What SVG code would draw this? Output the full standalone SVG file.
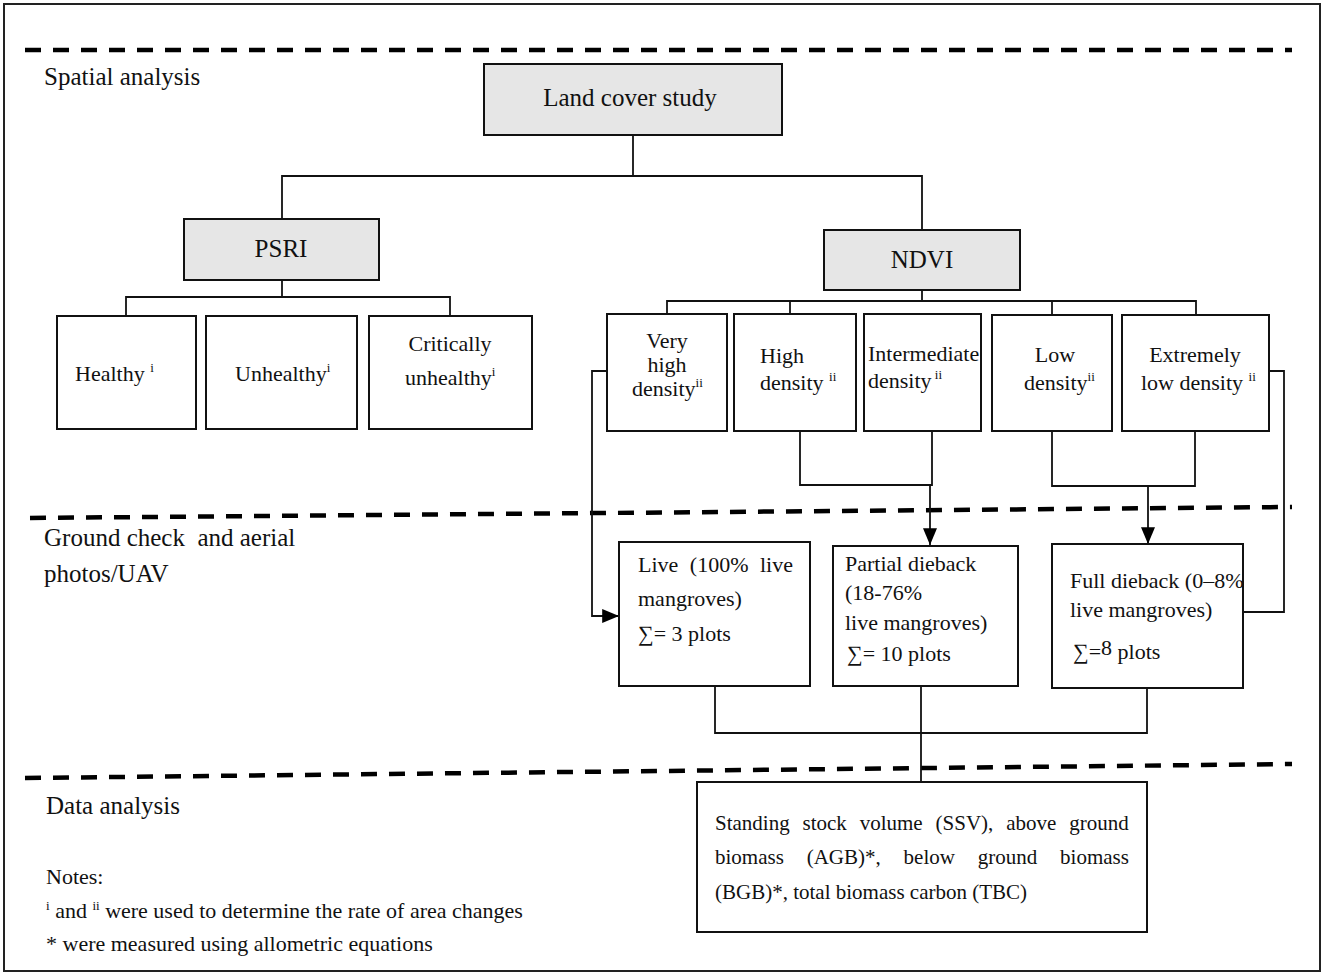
<svg xmlns="http://www.w3.org/2000/svg" width="1325" height="976" viewBox="0 0 1325 976">
<style>
text{font-family:"Liberation Serif","Times New Roman",serif;fill:#111;}
.big{font-size:25px;}
.nd{font-size:22px;}
.sm{font-size:21px;}
.sup{font-size:13px;}
.box{fill:#fff;stroke:#111;stroke-width:2;}
.gbox{fill:#e6e6e6;stroke:#111;stroke-width:2;}
.con{fill:none;stroke:#111;stroke-width:1.8;}
.dash{fill:none;stroke:#000;stroke-width:4.5;stroke-dasharray:16 12;}
</style>
<defs>
<marker id="arr" viewBox="0 0 12 10" refX="12" refY="5" markerWidth="17" markerHeight="14" markerUnits="userSpaceOnUse" orient="auto">
<path d="M0,0 L12,5 L0,10 Z" fill="#000"/>
</marker>
</defs>
<rect x="4" y="4" width="1316" height="967" fill="#fff" stroke="#222" stroke-width="2"/>

<g id="sections">
<line class="dash" x1="25" y1="50" x2="1292" y2="50"/>
<line class="dash" x1="30" y1="518" x2="1292" y2="507"/>
<line class="dash" x1="25" y1="778" x2="1292" y2="764"/>
<text class="big" x="44" y="85">Spatial analysis</text>
<text class="big" x="44" y="546" xml:space="preserve">Ground check  and aerial</text>
<text class="big" x="44" y="582">photos/UAV</text>
<text class="big" x="46" y="814">Data analysis</text>
<text class="nd" x="46" y="884">Notes:</text>
<text class="nd" x="46" y="918"><tspan class="sup" dy="-8">i</tspan><tspan dy="8"> and </tspan><tspan class="sup" dy="-8">ii</tspan><tspan dy="8"> were used to determine the rate of area changes</tspan></text>
<text class="nd" x="46" y="951">* were measured using allometric equations</text>
</g>

<g id="connectors">
<polyline class="con" points="633,135 633,176"/>
<polyline class="con" points="282,219 282,176 922,176 922,230"/>
<polyline class="con" points="282,280 282,297"/>
<polyline class="con" points="126,316 126,297 450,297 450,316"/>
<polyline class="con" points="922,290 922,301"/>
<polyline class="con" points="667,314 667,301 1196,301 1196,315"/>
<line class="con" x1="790" y1="301" x2="790" y2="314"/>
<line class="con" x1="1052" y1="301" x2="1052" y2="315"/>
<polyline class="con" points="607,371 592,371 592,616 619,616" marker-end="url(#arr)"/>
<polyline class="con" points="800,431 800,485 932,485 932,431"/>
<line class="con" x1="930" y1="485" x2="930" y2="545" marker-end="url(#arr)"/>
<polyline class="con" points="1052,431 1052,486 1195,486 1195,431"/>
<line class="con" x1="1148" y1="486" x2="1148" y2="544" marker-end="url(#arr)"/>
<polyline class="con" points="1269,371 1284,371 1284,612 1243,612"/>
<polyline class="con" points="715,686 715,733 1147,733 1147,688"/>
<line class="con" x1="921" y1="686" x2="921" y2="782"/>
</g>

<g id="land-cover">
<rect class="gbox" x="484" y="64" width="298" height="71"/>
<text class="big" x="630" y="106" text-anchor="middle">Land cover study</text>
</g>
<g id="psri">
<rect class="gbox" x="184" y="219" width="195" height="61"/>
<text class="big" x="281" y="257" text-anchor="middle">PSRI</text>
</g>
<g id="ndvi">
<rect class="gbox" x="824" y="230" width="196" height="60"/>
<text class="big" x="922" y="268" text-anchor="middle">NDVI</text>
</g>

<g id="healthy">
<rect class="box" x="57" y="316" width="139" height="113"/>
<text class="nd" x="75" y="381">Healthy <tspan class="sup" dy="-9">i</tspan></text>
</g>
<g id="unhealthy">
<rect class="box" x="206" y="316" width="151" height="113"/>
<text class="nd" x="235" y="381">Unhealthy<tspan class="sup" dy="-9">i</tspan></text>
</g>
<g id="critically-unhealthy">
<rect class="box" x="369" y="316" width="163" height="113"/>
<text class="nd" x="450" y="351" text-anchor="middle">Critically</text>
<text class="nd" x="405" y="385">unhealthy<tspan class="sup" dy="-9">i</tspan></text>
</g>

<g id="very-high">
<rect class="box" x="607" y="314" width="120" height="117"/>
<text class="nd" x="667" y="348" text-anchor="middle">Very</text>
<text class="nd" x="667" y="372" text-anchor="middle">high</text>
<text class="nd" x="632" y="396">density<tspan class="sup" dy="-9">ii</tspan></text>
</g>
<g id="high">
<rect class="box" x="734" y="314" width="122" height="117"/>
<text class="nd" x="760" y="363">High</text>
<text class="nd" x="760" y="390">density <tspan class="sup" dy="-9">ii</tspan></text>
</g>
<g id="intermediate">
<rect class="box" x="864" y="314" width="117" height="117"/>
<text class="nd" x="868" y="361">Intermediate</text>
<text class="nd" x="868" y="388">density<tspan class="sup" dy="-9"> ii</tspan></text>
</g>
<g id="low">
<rect class="box" x="992" y="315" width="120" height="116"/>
<text class="nd" x="1055" y="362" text-anchor="middle">Low</text>
<text class="nd" x="1024" y="390">density<tspan class="sup" dy="-9">ii</tspan></text>
</g>
<g id="extremely-low">
<rect class="box" x="1122" y="315" width="147" height="116"/>
<text class="nd" x="1195" y="362" text-anchor="middle">Extremely</text>
<text class="nd" x="1141" y="390">low density <tspan class="sup" dy="-9">ii</tspan></text>
</g>

<g id="live">
<rect class="box" x="619" y="542" width="191" height="144"/>
<text class="nd" x="638" y="572" word-spacing="6" xml:space="preserve">Live (100% live</text>
<text class="nd" x="638" y="606">mangroves)</text>
<text class="nd" x="638" y="641">∑= 3 plots</text>
</g>
<g id="partial">
<rect class="box" x="833" y="546" width="185" height="140"/>
<text class="nd" x="845" y="571">Partial dieback</text>
<text class="nd" x="845" y="600">(18-76%</text>
<text class="nd" x="845" y="630">live mangroves)</text>
<text class="nd" x="847" y="661">∑= 10 plots</text>
</g>
<g id="full">
<rect class="box" x="1052" y="544" width="191" height="144"/>
<text class="nd" x="1070" y="588">Full dieback (0–8%</text>
<text class="nd" x="1070" y="617">live mangroves)</text>
<text class="nd" x="1073" y="659">∑=<tspan dy="-4">8</tspan><tspan dy="4"> plots</tspan></text>
</g>

<g id="biomass">
<rect class="box" x="697" y="782" width="450" height="150"/>
<text class="sm" x="715" y="830" word-spacing="7.6">Standing stock volume (SSV), above ground</text>
<text class="sm" x="715" y="864" word-spacing="17.6">biomass (AGB)*, below ground biomass</text>
<text class="sm" x="715" y="899">(BGB)*, total biomass carbon (TBC)</text>
</g>
</svg>
